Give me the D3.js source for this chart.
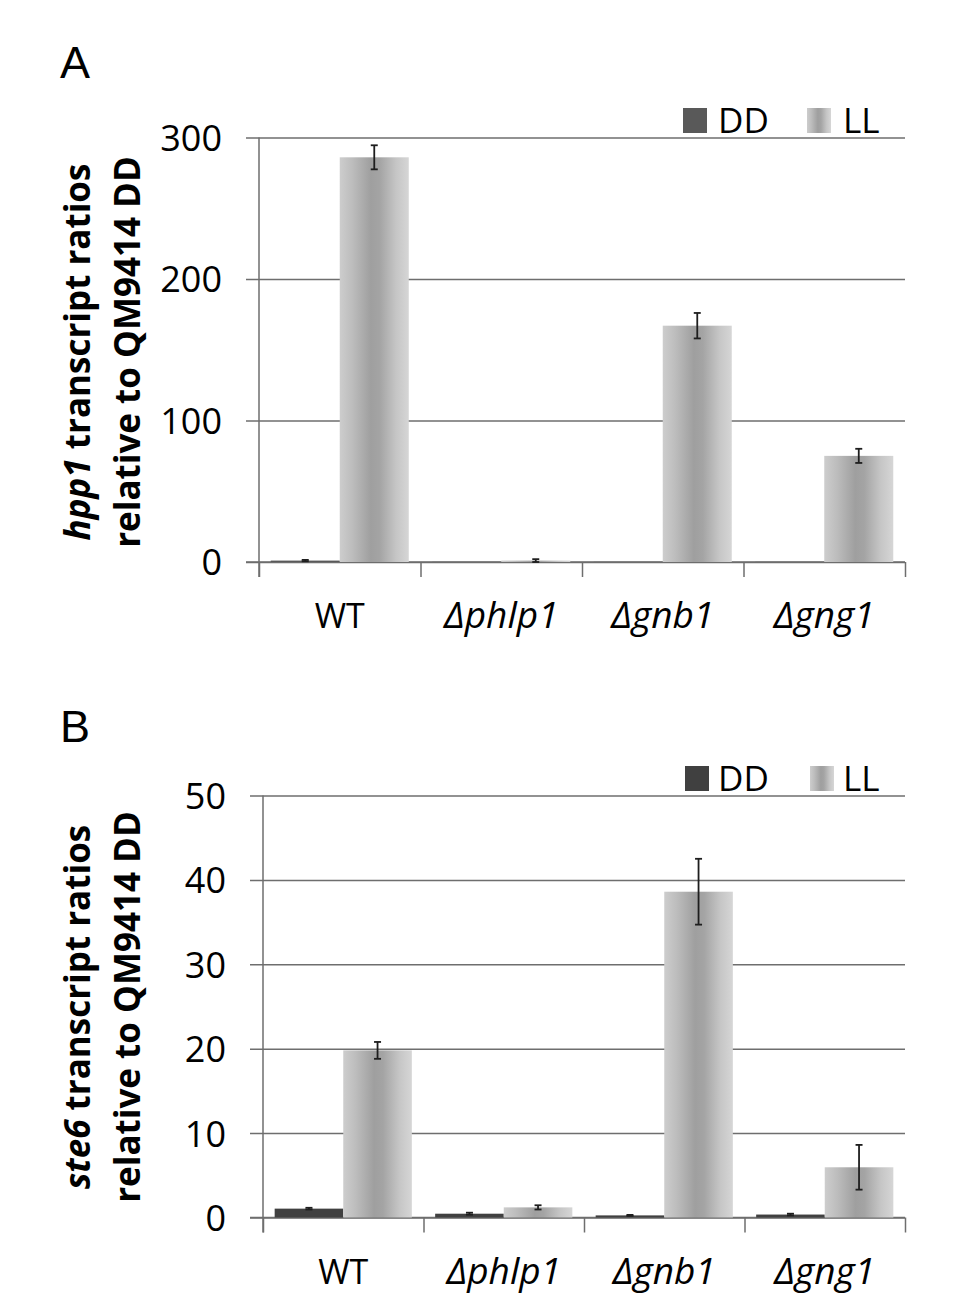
<!DOCTYPE html>
<html>
<head>
<meta charset="utf-8">
<script src="https://cdn.jsdelivr.net/npm/d3@7"></script>
<style>
  body { margin: 0; background: #fff; }
  svg text { font-family: "Open Sans", "Noto Sans", sans-serif; fill: #000; }
  .grid line { stroke: #6e6e6e; stroke-width: 1.5; }
  .axis path, .axis line { stroke: #6e6e6e; stroke-width: 1.5; }
</style>
</head>
<body>
<div id="chart"></div>
<script>
// Data
const categories = ['WT', 'Δphlp1', 'Δgnb1', 'Δgng1']
const series = ['DD', 'LL']

// panel A: hpp1
const hpp1DD = [1, 0.1, 0.1, 0.1]
const hpp1DDErr = [0.5, 0, 0, 0]
const hpp1LL = [286, 1, 167, 75]
const hpp1LLErr = [8.5, 1, 9, 5]
const hpp1Ticks = [0, 100, 200, 300]

// panel B: ste6
const ste6DD = [1.05, 0.45, 0.25, 0.35]
const ste6DDErr = [0.1, 0.12, 0.06, 0.1]
const ste6LL = [19.8, 1.2, 38.6, 5.95]
const ste6LLErr = [1.0, 0.25, 3.9, 2.65]
const ste6Ticks = [0, 10, 20, 30, 40, 50]

var width = 975
var height = 1316

const svg = d3.select('#chart')
  .append('svg')
  .attr('width', width)
  .attr('height', height)

// gradient for LL bars
const defs = svg.append('defs')
const grad = defs.append('linearGradient')
  .attr('id', 'llGrad')
  .attr('x1', '0%').attr('x2', '100%')
  .attr('y1', '0%').attr('y2', '0%')
const stops = [[0, '#cdcdcd'], [0.18, '#bdbdbd'], [0.45, '#9f9f9f'], [0.58, '#a4a4a4'], [0.82, '#c6c6c6'], [1, '#d6d6d6']]
stops.forEach(s => grad.append('stop').attr('offset', s[0]).attr('stop-color', s[1]))

function drawPanel(opt) {
  const g = svg.append('g')
  const left = opt.left, right = 905
  const y = d3.scaleLinear().domain([0, opt.max]).range([opt.zero, opt.top])
  const x = d3.scaleBand().domain(categories).range([left, right]).padding(0)
  const xSub = d3.scaleBand().domain(series).range([0, x.bandwidth()]).paddingInner(0).paddingOuter(0.17)

  // panel letter
  svg.append('text')
    .attr('x', 60)
    .attr('y', opt.letterY)
    .style('font-family', '"Liberation Sans", Arial, sans-serif')
    .style('font-size', '45px')
    .text(opt.letter)

  // gridlines + y ticks
  const yAxis = d3.axisLeft(y)
    .tickValues(opt.ticks)
    .tickSizeInner(-(right - left))
    .tickSizeOuter(0)
    .tickPadding(37)
  const ga = g.append('g')
    .attr('class', 'grid')
    .attr('transform', `translate(${left},0)`)
    .call(yAxis)
  ga.select('.domain').remove()
  ga.selectAll('line').attr('x1', -13)
  ga.selectAll('text').style('font-size', '36px').attr('dy', '0.36em')

  // y axis vertical line
  g.append('line')
    .attr('x1', left).attr('x2', left)
    .attr('y1', y(opt.max)).attr('y2', opt.zero + 15)
    .attr('stroke', '#6e6e6e').attr('stroke-width', 1.5)

  // x axis with ticks at category boundaries
  const xb = d3.scaleLinear().domain([0, categories.length]).range([left, right])
  const gx = g.append('g')
    .attr('class', 'axis')
    .attr('transform', `translate(0,${opt.zero})`)
    .call(d3.axisBottom(xb).ticks(categories.length).tickSize(15).tickFormat(''))
  gx.select('.domain').attr('d', `M${left - 13},0H${right}`)

  // category labels
  g.selectAll('.cat')
    .data(categories)
    .enter()
    .append('text')
    .attr('class', 'cat')
    .attr('x', d => x(d) + x.bandwidth() / 2)
    .attr('y', opt.zero + 66)
    .attr('text-anchor', 'middle')
    .style('font-size', (d, i) => i === 0 ? '34px' : '37px')
    .style('font-style', (d, i) => i === 0 ? 'normal' : 'italic')
    .text(d => d)

  const rows = categories.map((c, i) => [
    { cat: c, s: 'DD', v: opt.dd[i], e: opt.ddErr[i] },
    { cat: c, s: 'LL', v: opt.ll[i], e: opt.llErr[i] }
  ]).flat()

  g.selectAll('.bar')
    .data(rows)
    .enter()
    .append('rect')
    .attr('class', 'bar')
    .attr('x', d => x(d.cat) + xSub(d.s))
    .attr('width', xSub.bandwidth())
    .attr('y', d => y(d.v))
    .attr('height', d => y(0) - y(d.v))
    .attr('fill', d => d.s === 'DD' ? opt.ddColor : 'url(#llGrad)')

  // error bars
  const eb = g.selectAll('.err')
    .data(rows.filter(d => d.e > 0))
    .enter()
    .append('g')
    .attr('class', 'err')
    .attr('transform', d => `translate(${x(d.cat) + xSub(d.s) + xSub.bandwidth() / 2},0)`)
  eb.append('line')
    .attr('y1', d => y(d.v + d.e)).attr('y2', d => y(d.v - d.e))
  eb.append('line')
    .attr('x1', -3.5).attr('x2', 3.5)
    .attr('y1', d => y(d.v + d.e)).attr('y2', d => y(d.v + d.e))
  eb.append('line')
    .attr('x1', -3.5).attr('x2', 3.5)
    .attr('y1', d => y(d.v - d.e)).attr('y2', d => y(d.v - d.e))
  eb.selectAll('line').attr('stroke', '#1e1e1e').attr('stroke-width', 1.8)

  // y axis title
  const tt = svg.append('text')
    .attr('transform', `translate(90,${opt.titleY}) rotate(-90)`)
    .attr('text-anchor', 'middle')
    .style('font-size', '35px')
    .style('font-weight', 'bold')
  tt.append('tspan').style('font-style', 'italic').text(opt.gene)
  tt.append('tspan').text(' transcript ratios')
  svg.append('text')
    .attr('transform', `translate(140,${opt.titleY}) rotate(-90)`)
    .attr('text-anchor', 'middle')
    .style('font-size', '35px')
    .style('font-weight', 'bold')
    .text('relative to QM9414 DD')

  // legend
  const legendData = [
    { s: 'DD', x: opt.legX[0], fill: opt.ddColor, tx: 718 },
    { s: 'LL', x: opt.legX[1], fill: 'url(#llGrad)', tx: 843 }
  ]
  const lg = svg.append('g').attr('class', 'legend')
  lg.selectAll('rect')
    .data(legendData)
    .enter()
    .append('rect')
    .attr('x', d => d.x)
    .attr('y', opt.legY - 25)
    .attr('width', 24)
    .attr('height', 25)
    .attr('fill', d => d.fill)
  lg.selectAll('text')
    .data(legendData)
    .enter()
    .append('text')
    .attr('x', d => d.tx)
    .attr('y', opt.legY)
    .style('font-size', '35px')
    .text(d => d.s)
}

drawPanel({
  letter: 'A', letterY: 78,
  left: 259, zero: 562, top: 137.5, max: 300, ticks: hpp1Ticks,
  dd: hpp1DD, ddErr: hpp1DDErr, ll: hpp1LL, llErr: hpp1LLErr,
  ddColor: '#595959', gene: 'hpp1', titleY: 352,
  legX: [683, 807], legY: 133
})

drawPanel({
  letter: 'B', letterY: 742,
  left: 263, zero: 1217.5, top: 795.5, max: 50, ticks: ste6Ticks,
  dd: ste6DD, ddErr: ste6DDErr, ll: ste6LL, llErr: ste6LLErr,
  ddColor: '#404040', gene: 'ste6', titleY: 1007,
  legX: [685, 810], legY: 791
})
</script>
</body>
</html>
